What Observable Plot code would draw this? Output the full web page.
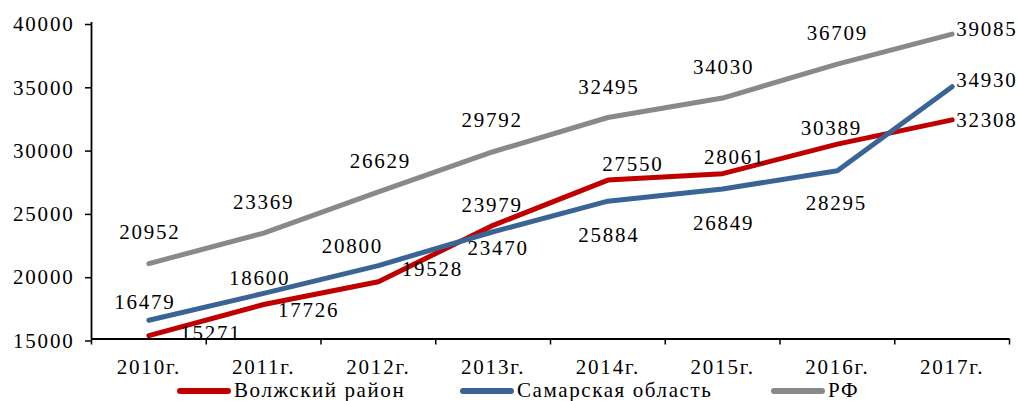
<!DOCTYPE html>
<html>
<head>
<meta charset="utf-8">
<script src="https://cdn.jsdelivr.net/npm/d3@7"></script>
<script src="https://cdn.jsdelivr.net/npm/@observablehq/plot@0.6"></script>
<style>
  html, body { margin: 0; padding: 0; background: #fff; }
  #chart svg { display: block; }
  #chart svg text { letter-spacing: 1.8px; }
  .legend { position: relative; height: 21px; font-family: "Liberation Serif", serif; font-size: 21px; line-height: 21px; letter-spacing: 1.6px; color: #000; }
  .item { position: absolute; top: 0; display: flex; align-items: center; height: 21px; white-space: nowrap; }
  .sw { width: 54px; height: 6px; border-radius: 3px; margin-right: 3px; }
</style>
</head>
<body>
<div id="chart"></div>
<div class="legend" id="legend"></div>
<script>
// ---- data ----
const years = ["2010г.", "2011г.", "2012г.", "2013г.", "2014г.", "2015г.", "2016г.", "2017г."];
const seriesNames = ["Волжский район", "Самарская область", "РФ"];
const volzhsky = [15271, 17726, 19528, 23979, 27550, 28061, 30389, 32308];
const samara   = [16479, 18600, 20800, 23470, 25884, 26849, 28295, 34930];
const rf       = [20952, 23369, 26629, 29792, 32495, 34030, 36709, 39085];
const yTicks = [15000, 20000, 25000, 30000, 35000, 40000];

// ---- presentation ----
const colors = ["#c00000", "#3b6496", "#898989"];
const labelOffsets = [
  [[62,-2],[45,6],[54,-12],[-1,-20],[25,-16],[12,-16],[-6,-16],[4,0]],
  [[-4,-18],[-4,-15],[-26,-19],[5,16],[1,34],[1,34],[-1,33],[4,-6]],
  [[1,-31],[0,-31],[2,-31],[-1,-31],[1,-30],[1,-31],[0,-31],[4,-5]]
];

const allSeries = [volzhsky, samara, rf];
const rows = allSeries.flatMap((vals, s) => vals.map((v, i) => ({s, i, v, name: seriesNames[s]})));

const labelMarks = rows.map(d => {
  const [dx, dy] = labelOffsets[d.s][d.i];
  const last = d.i === years.length - 1;
  return Plot.text([d], {x: "i", y: "v", text: r => String(r.v), dx, dy,
    textAnchor: last ? "start" : "middle", fill: "#000"});
});

const chart = Plot.plot({
  width: 1017,
  height: 380,
  marginLeft: 91,
  marginRight: 8,
  marginTop: 22,
  marginBottom: 41.5,
  style: {fontFamily: "'Liberation Serif', 'Times New Roman', serif", fontSize: "21px", color: "#000", background: "#fff"},
  x: {type: "linear", domain: [-0.5, years.length - 0.5]},
  y: {domain: [15000, 40000]},
  marks: [
    Plot.axisY({ticks: yTicks, tickSize: 6, tickPadding: 11, tickFormat: d3.format("d"), label: null, strokeWidth: 1.5, dy: 2}),
    Plot.axisX({ticks: d3.range(years.length), tickSize: 0, tickPadding: 20.5, tickFormat: i => years[i], label: null}),
    Plot.axisX({ticks: d3.range(years.length + 1).map(k => k - 0.5), tickSize: 6, tickFormat: () => "", label: null, strokeWidth: 1.5}),
    Plot.ruleX([-0.5], {stroke: "#000", strokeWidth: 1.8}),
    Plot.ruleY([15000], {stroke: "#000", strokeWidth: 1.8}),
    ...allSeries.map((vals, s) => Plot.line(rows.filter(r => r.s === s), {
      x: "i", y: "v", stroke: colors[s], strokeWidth: 5, strokeLinecap: "round", strokeLinejoin: "round"
    })),
    ...labelMarks
  ]
});
document.getElementById("chart").appendChild(chart);

// legend
const legendLeft = [177, 460, 771];
const legend = document.getElementById("legend");
seriesNames.forEach((n, s) => {
  const it = document.createElement("div");
  it.className = "item";
  it.style.left = legendLeft[s] + "px";
  const sw = document.createElement("div");
  sw.className = "sw";
  sw.style.background = colors[s];
  const t = document.createElement("span");
  t.textContent = n;
  it.appendChild(sw); it.appendChild(t);
  legend.appendChild(it);
});
</script>
</body>
</html>
